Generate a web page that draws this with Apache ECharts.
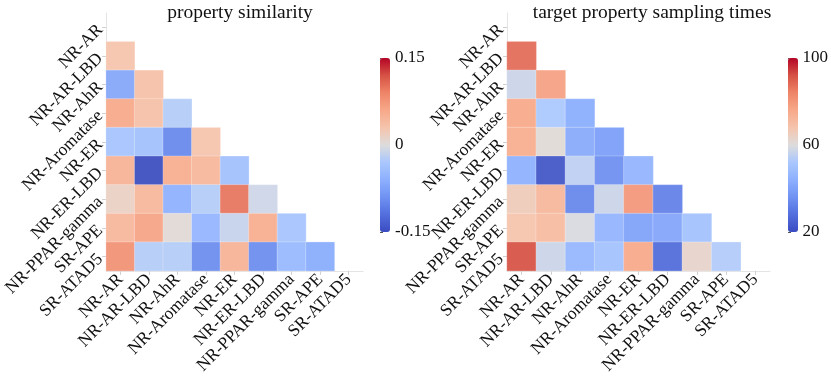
<!DOCTYPE html>
<html>
<head>
<meta charset="utf-8">
<script src="https://cdn.jsdelivr.net/npm/echarts@6/dist/echarts.min.js"></script>
<style>
  html, body { margin: 0; padding: 0; background: #fff; }
  #chart { width: 831px; height: 377px; }
</style>
</head>
<body>
<div id="chart"></div>
<script>
// property names (same order on both axes)
const labels = ["NR-AR", "NR-AR-LBD", "NR-AhR", "NR-Aromatase", "NR-ER",
  "NR-ER-LBD", "NR-PPAR-gamma", "SR-APE", "SR-ATAD5"];

// lower triangle, row i holds columns 0..i-1 (row 0 is empty)
const similarityRows = [
  [],
  [0.03],
  [-0.07, 0.035],
  [0.06, 0.035, -0.025],
  [-0.035, -0.04, -0.1, 0.03],
  [0.05, -0.15, 0.055, 0.045, -0.04],
  [0.015, 0.045, -0.06, -0.025, 0.1, -0.01],
  [0.045, 0.065, 0.005, -0.055, -0.015, 0.055, -0.035],
  [0.08, -0.025, -0.025, -0.095, 0.05, -0.095, -0.05, -0.065]
];

const samplingRows = [
  [],
  [88],
  [57, 78],
  [76, 52, 43],
  [75, 61, 42, 39],
  [44, 22, 55, 35, 45],
  [66, 72, 33, 57, 80, 32],
  [68, 71, 59, 45, 40, 41, 50],
  [92, 57, 46, 50, 76, 27, 63, 53]
];

const simTicks = [-0.15, 0.15, 0.15];   // min, max, interval
const sampTicks = [20, 100, 40];

// coolwarm
const coolwarm = ["#3b4cc0", "#536edd", "#6f92f3", "#8db0fe", "#aac7fd",
  "#dddcdc", "#f5c4ac", "#f7a889", "#ee8468", "#d65244", "#b40426"];

function toCells(rows) {
  var out = [];
  rows.forEach(function (row, i) {
    row.forEach(function (v, j) {
      out.push([j, i, v]);
    });
  });
  return out;
}

var font = "'Liberation Serif', 'DejaVu Serif', serif";

function heatAxes(gridIndex) {
  var common = {
    type: "category",
    data: labels,
    gridIndex: gridIndex,
    axisLine: { show: true, lineStyle: { color: "#e4e4e4", width: 1 } },
    axisTick: { show: true, alignWithLabel: true, length: 4, lineStyle: { color: "#cfcfcf" } },
    splitLine: { show: false },
    axisLabel: { interval: 0, hideOverlap: false, rotate: 45, color: "#111",
      fontFamily: font, fontSize: 17.5, margin: 6 }
  };
  return {
    x: Object.assign({}, common, { position: "bottom" }),
    y: Object.assign({}, common, { position: "left", inverse: true })
  };
}

var a0 = heatAxes(0);
var a1 = heatAxes(1);

function barAxis(gridIndex, t) {
  return {
    type: "value",
    gridIndex: gridIndex,
    position: "right",
    min: t[0],
    max: t[1],
    interval: t[2],
    axisLine: { show: false },
    axisTick: { show: true, length: 3, lineStyle: { color: "#555" } },
    splitLine: { show: false },
    axisLabel: { color: "#111", fontFamily: font, fontSize: 17, margin: 5 }
  };
}

var myChart = echarts.init(document.getElementById("chart"));
var option = {
  animation: false,
  title: [
    { text: "property similarity", left: 235, top: -2, textAlign: "center",
      textStyle: { fontFamily: font, fontSize: 19.5, fontWeight: "normal", color: "#111" } },
    { text: "target property sampling times", left: 647, top: -2, textAlign: "center",
      textStyle: { fontFamily: font, fontSize: 19.5, fontWeight: "normal", color: "#111" } }
  ],
  grid: [
    { left: 99, top: 13, width: 264, height: 264 },
    { left: 507, top: 13, width: 263, height: 264 },
    { left: 380, top: 58, width: 10, height: 174 },
    { left: 788, top: 58, width: 10, height: 174 }
  ],
  xAxis: [
    a0.x, a1.x,
    { type: "value", gridIndex: 2, show: false },
    { type: "value", gridIndex: 3, show: false }
  ],
  yAxis: [
    a0.y, a1.y,
    barAxis(2, simTicks),
    barAxis(3, sampTicks)
  ],
  visualMap: [
    {
      type: "continuous", seriesIndex: 0,
      min: simTicks[0], max: simTicks[1],
      left: 380, top: 58, itemWidth: 10, itemHeight: 174,
      padding: 0, calculable: false, text: null, showLabel: false,
      inRange: { color: coolwarm }, hoverLink: false
    },
    {
      type: "continuous", seriesIndex: 1,
      min: sampTicks[0], max: sampTicks[1],
      left: 788, top: 58, itemWidth: 10, itemHeight: 174,
      padding: 0, calculable: false, text: null, showLabel: false,
      inRange: { color: coolwarm }, hoverLink: false
    }
  ],
  series: [
    {
      type: "heatmap", xAxisIndex: 0, yAxisIndex: 0,
      data: toCells(similarityRows),
      itemStyle: { opacity: 0.93, borderColor: "rgba(255,255,255,0.6)", borderWidth: 0.5 }
    },
    {
      type: "heatmap", xAxisIndex: 1, yAxisIndex: 1,
      data: toCells(samplingRows),
      itemStyle: { opacity: 0.93, borderColor: "rgba(255,255,255,0.6)", borderWidth: 0.5 }
    }
  ]
};
myChart.setOption(option);
</script>
</body>
</html>
